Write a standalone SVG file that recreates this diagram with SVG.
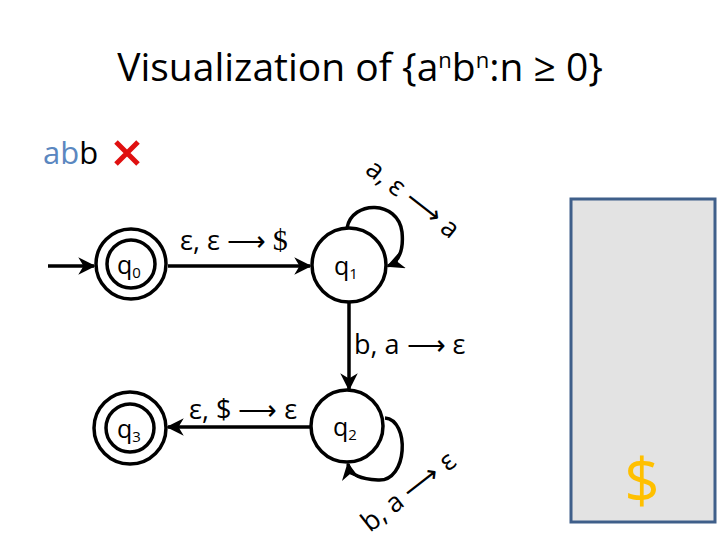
<svg xmlns="http://www.w3.org/2000/svg" width="720" height="540" viewBox="0 0 720 540">
<defs>
<marker id="ah" viewBox="0 0 10 10" refX="9" refY="5" markerWidth="5" markerHeight="5" orient="auto" markerUnits="strokeWidth">
<path d="M0,0 L10,5 L0,10 L3,5 Z" fill="#000"/>
</marker>
</defs>
<style>
.st{fill:#fff;stroke:#000;stroke-width:3.5}
.ed{fill:none;stroke:#000;stroke-width:3.5;marker-end:url(#ah)}
.lb{font-family:"Open Sans","Liberation Sans",sans-serif;font-size:27px;fill:#000}
.sn{font-family:"Open Sans","Liberation Sans",sans-serif;font-size:25px;fill:#000}
.sub{font-size:15px}
</style>
<rect width="720" height="540" fill="#fff"/>
<text x="360" y="81" text-anchor="middle" font-family="Open Sans, Liberation Sans, sans-serif" font-size="39" fill="#000">Visualization of {a<tspan dy="-13" font-size="22">n</tspan><tspan dy="13">b</tspan><tspan dy="-13" font-size="22">n</tspan><tspan dy="13">:n ≥ 0}</tspan></text>
<g id="input">
<text x="43" y="164" font-family="Open Sans, Liberation Sans, sans-serif" font-size="31"><tspan fill="#5b87c0">ab</tspan><tspan fill="#000">b</tspan></text>
<path d="M116,142 L138,164 M138,142 L116,164" stroke="#e01010" stroke-width="5"/>
</g>
<g id="connectors">
<path class="ed" d="M48,266 L94,266"/>
<path class="ed" d="M168,266 L310,266"/>
<path class="ed" d="M347,228 C352,200 398,200 402,232 C404,252 398,262 388,266"/>
<path class="ed" d="M349,302 L349,389"/>
<path class="ed" d="M385,418 C410,420 408,482 378,480 C362,479 350,476 348,464"/>
<path class="ed" d="M311,427 L168,427"/>
</g>
<g id="labels" class="lb">
<text x="180" y="250"><tspan>ε, ε ⟶ </tspan><tspan font-family="Liberation Serif, serif" font-size="30">$</tspan></text>
<text transform="translate(364,172) rotate(38)">a, ε ⟶ a</text>
<text x="354" y="354">b, a ⟶ ε</text>
<text x="189" y="419">ε, $ ⟶ ε</text>
<text transform="translate(370,533) rotate(-38)">b, a ⟶ ε</text>
</g>
<g id="q0">
<circle class="st" cx="131" cy="264" r="35"/>
<circle class="st" cx="131" cy="264" r="24"/>
<text class="sn" x="117" y="274">q<tspan class="sub" dy="4">0</tspan></text>
</g>
<g id="q1">
<circle class="st" cx="349" cy="265" r="37"/>
<text class="sn" x="334" y="275">q<tspan class="sub" dy="4">1</tspan></text>
</g>
<g id="q2">
<circle class="st" cx="347" cy="426" r="36"/>
<text class="sn" x="333" y="436">q<tspan class="sub" dy="4">2</tspan></text>
</g>
<g id="q3">
<circle class="st" cx="130" cy="428" r="36"/>
<circle class="st" cx="130" cy="428" r="24"/>
<text class="sn" x="117" y="438">q<tspan class="sub" dy="4">3</tspan></text>
</g>
<g id="stack">
<rect x="571" y="199" width="144" height="323" fill="#e3e3e3" stroke="#3f5f8a" stroke-width="3"/>
<text x="642" y="503" text-anchor="middle" font-family="Open Sans, Liberation Sans, sans-serif" font-size="62" fill="#ffc000">$</text>
</g>
</svg>
